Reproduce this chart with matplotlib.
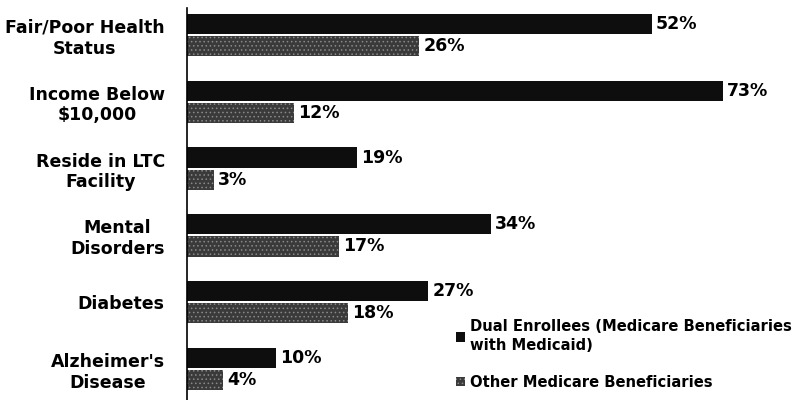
import numpy as np
import matplotlib.pyplot as plt
from matplotlib.patches import Patch

plt.rcParams['font.family'] = ['DejaVu Sans']
plt.rcParams['hatch.linewidth'] = 0.6

categories = ['Fair/Poor Health\nStatus', 'Income Below\n$10,000', 'Reside in LTC\nFacility',
              'Mental\nDisorders', 'Diabetes', "Alzheimer's\nDisease"]
dual = [52, 73, 19, 34, 27, 10]
other = [26, 12, 3, 17, 18, 4]
labels = ['Dual Enrollees (Medicare Beneficiaries\nwith Medicaid)', 'Other Medicare Beneficiaries']

dual_color = '#0e0e0e'
other_color = '#3a3a3a'
# the 73% bar is cut short in the original, so the axis stops at ~60
xmax = 60

fig = plt.figure(figsize=(7.97, 4.0), dpi=100)
ax = fig.add_axes([187/797, 0.0, (723 - 187)/797, 392/400])

y = np.arange(len(categories))
h = 0.30
off = 0.165
ax.barh(y - off, dual, height=h, color=dual_color, edgecolor='none')
ax.barh(y + off, other, height=h, color=other_color, edgecolor='#8a8a8a', hatch='....', linewidth=0)

for yi, v in zip(y - off, dual):
    ax.text(min(v, xmax) + 0.45, yi, f'{v}%', va='center', ha='left', fontsize=12.5,
            fontweight='bold', clip_on=False)
for yi, v in zip(y + off, other):
    ax.text(v + 0.45, yi, f'{v}%', va='center', ha='left', fontsize=12.5,
            fontweight='bold', clip_on=False)

ax.set_xlim(0, xmax)
ax.set_ylim(len(categories) - 0.54, -0.4)
ax.set_yticks(y)
ax.set_yticklabels(categories, fontsize=12.5, fontweight='bold', multialignment='center')
ax.tick_params(axis='y', length=0, pad=16)
ax.set_xticks([])
for s in ['top', 'right', 'bottom']:
    ax.spines[s].set_visible(False)
ax.spines['left'].set_linewidth(1.2)

handles = [Patch(facecolor=dual_color, edgecolor='none'),
           Patch(facecolor=other_color, edgecolor='#8a8a8a', hatch='....', linewidth=0)]
leg = fig.legend(handles, labels, loc='upper left', bbox_to_anchor=(443/797, 1 - 306/400),
                 frameon=False, prop={'weight': 'bold', 'size': 10.6},
                 handlelength=0.6, handleheight=0.6, handletextpad=0.35, labelspacing=1.45)
for t in leg.get_texts():
    t.set_linespacing(1.35)

fig.savefig('out.png', dpi=100)
